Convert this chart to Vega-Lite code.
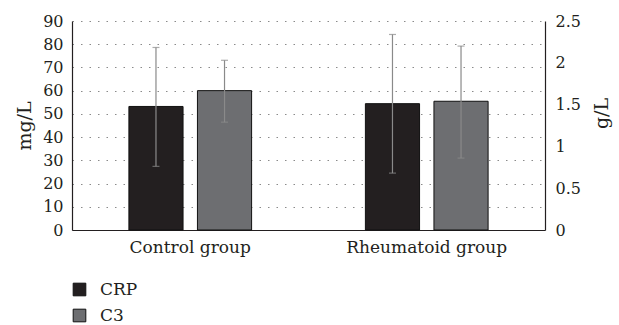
{
  "$schema": "https://vega.github.io/schema/vega-lite/v6.json",
  "autosize": "none",
  "width": 473,
  "height": 209,
  "padding": {"left": 72, "top": 21, "right": 74, "bottom": 95},
  "background": "white",
  "config": {
    "font": "DejaVu Serif",
    "view": {"stroke": null},
    "axis": {
      "labelFont": "DejaVu Serif",
      "titleFont": "DejaVu Serif",
      "labelFontSize": 16,
      "titleFontSize": 19,
      "labelColor": "#231f20",
      "titleColor": "#231f20",
      "titleFontWeight": "normal",
      "domainColor": "#231f20",
      "domainWidth": 1.2,
      "ticks": false
    },
    "legend": {
      "labelFont": "DejaVu Serif",
      "labelFontSize": 17,
      "labelColor": "#231f20"
    }
  },
  "data": {
    "values": [
      {"group": "Control group", "series": "CRP", "value": 53.2, "lo": 27.4, "hi": 78.6},
      {"group": "Rheumatoid group", "series": "CRP", "value": 54.4, "lo": 24.5, "hi": 84.2},
      {"group": "Control group", "series": "C3", "value": 1.667, "lo": 1.29, "hi": 2.03},
      {"group": "Rheumatoid group", "series": "C3", "value": 1.54, "lo": 0.86, "hi": 2.2}
    ]
  },
  "encoding": {
    "x": {
      "field": "group",
      "type": "nominal",
      "sort": ["Control group", "Rheumatoid group"],
      "scale": {"paddingInner": 0, "paddingOuter": 0},
      "axis": {"title": null, "labelAngle": 0, "labelPadding": 9, "labelFontSize": 17, "domain": true}
    },
    "xOffset": {
      "field": "series",
      "type": "nominal",
      "scale": {"domain": ["CRP", "C3"], "paddingInner": 0.21, "paddingOuter": 0.83}
    }
  },
  "layer": [
    {
      "transform": [{"filter": "datum.series === 'CRP'"}],
      "encoding": {
        "y": {
          "type": "quantitative",
          "scale": {"domain": [0, 90], "nice": false},
          "axis": {
            "title": "mg/L",
            "values": [0, 10, 20, 30, 40, 50, 60, 70, 80, 90],
            "grid": true,
            "gridDash": [1.5, 7],
            "gridColor": "#8a8a8a",
            "gridWidth": 1,
            "labelPadding": 9,
            "titlePadding": 8
          }
        }
      },
      "layer": [
        {
          "mark": {"type": "bar", "stroke": "#111111", "strokeWidth": 1},
          "encoding": {
            "y": {"field": "value"},
            "color": {
              "field": "series",
              "type": "nominal",
              "scale": {"domain": ["CRP", "C3"], "range": ["#231f20", "#6d6e71"]},
              "legend": {
                "title": null,
                "orient": "none",
                "legendX": -1,
                "legendY": 260,
                "direction": "vertical",
                "symbolType": "square",
                "symbolSize": 160,
                "symbolStrokeColor": "#231f20",
                "symbolStrokeWidth": 1,
                "symbolOpacity": 1,
                "rowPadding": 8,
                "labelOffset": 12
              }
            }
          }
        },
        {
          "mark": {"type": "rule", "color": "#8a8a8a", "strokeWidth": 1.2},
          "encoding": {"y": {"field": "lo"}, "y2": {"field": "hi"}}
        },
        {
          "mark": {"type": "tick", "color": "#8a8a8a", "size": 7, "thickness": 1.2},
          "encoding": {"y": {"field": "hi"}}
        },
        {
          "mark": {"type": "tick", "color": "#8a8a8a", "size": 7, "thickness": 1.2},
          "encoding": {"y": {"field": "lo"}}
        }
      ]
    },
    {
      "transform": [{"filter": "datum.series === 'C3'"}],
      "encoding": {
        "y": {
          "type": "quantitative",
          "scale": {"domain": [0, 2.5], "nice": false},
          "axis": {
            "title": "g/L",
            "orient": "right",
            "values": [0, 0.5, 1, 1.5, 2, 2.5],
            "format": "~g",
            "grid": false,
            "labelPadding": 10,
            "titlePadding": 31,
            "titleAngle": -90,
            "titleY": 92
          }
        }
      },
      "layer": [
        {
          "mark": {"type": "bar", "stroke": "#111111", "strokeWidth": 1},
          "encoding": {
            "y": {"field": "value"},
            "color": {"field": "series", "type": "nominal"}
          }
        },
        {
          "mark": {"type": "rule", "color": "#8a8a8a", "strokeWidth": 1.2},
          "encoding": {"y": {"field": "lo"}, "y2": {"field": "hi"}}
        },
        {
          "mark": {"type": "tick", "color": "#8a8a8a", "size": 7, "thickness": 1.2},
          "encoding": {"y": {"field": "hi"}}
        },
        {
          "mark": {"type": "tick", "color": "#8a8a8a", "size": 7, "thickness": 1.2},
          "encoding": {"y": {"field": "lo"}}
        }
      ]
    }
  ],
  "resolve": {"scale": {"y": "independent"}}
}
